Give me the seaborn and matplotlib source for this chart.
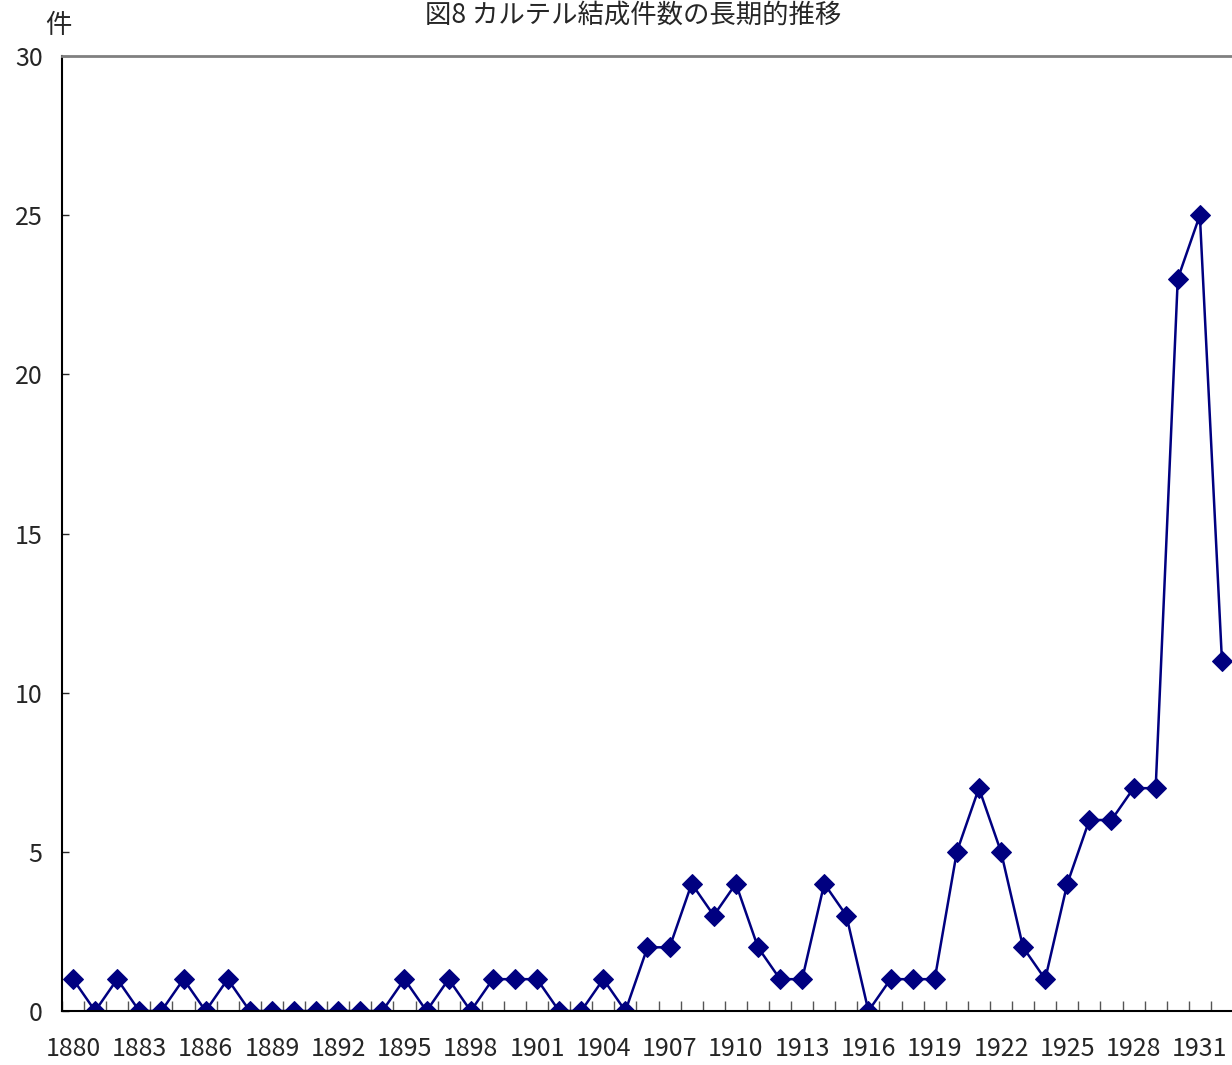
import matplotlib
matplotlib.use('Agg')
import matplotlib.pyplot as plt
from matplotlib.ticker import FixedLocator, MultipleLocator
import seaborn as sns
import numpy as np
import pandas as pd

years = list(range(1880, 1933))
counts = [1, 0, 1, 0, 0, 1, 0, 1, 0, 0,
          0, 0, 0, 0, 0, 1, 0, 1, 0, 1,
          1, 1, 0, 0, 1, 0, 2, 2, 4, 3,
          4, 2, 1, 1, 4, 3, 0, 1, 1, 1,
          5, 7, 5, 2, 1, 4, 6, 6, 7, 7,
          23, 25, 11]
label_years = years[::3]
title = '図8 カルテル結成件数の長期的推移'

sns.set_style('white')
plt.rcParams['font.family'] = ['Noto Sans CJK JP', 'DejaVu Sans']

df = pd.DataFrame({'year': years, 'count': counts})

fig = plt.figure(figsize=(12.32, 10.65), dpi=100)
ax = fig.add_axes([62 / 1232, 1 - 1011 / 1065, 1171 / 1232, (1011 - 56) / 1065])
sns.lineplot(data=df, x='year', y='count', ax=ax, color='#000080',
             marker='D', markersize=10, markeredgecolor='#000080',
             linewidth=1.8)

ax.set_xlim(1879.5, 1932.5)
ax.set_ylim(0, 30)
ax.yaxis.set_major_locator(MultipleLocator(5))
ax.set_xticks(label_years)
ax.set_xticklabels([str(y) for y in label_years])
ax.xaxis.set_minor_locator(FixedLocator(np.arange(1879.5, 1933, 1)))
ax.tick_params(axis='x', which='major', length=0, labelsize=18, pad=18)
ax.tick_params(axis='x', which='minor', direction='in', length=7,
               width=1, color='#555555', bottom=True)
ax.tick_params(axis='y', which='major', direction='in', length=5,
               width=1, labelsize=18, pad=14, left=True)
ax.set_xlabel('')
ax.set_ylabel('')

for s in ['left', 'bottom']:
    ax.spines[s].set_color('black')
    ax.spines[s].set_linewidth(1.5)
ax.spines['top'].set_color('#808080')
ax.spines['top'].set_linewidth(2)
ax.spines['right'].set_visible(False)

fig.text(58 / 1232, 1 - 33 / 1065, '件', fontsize=19, ha='center', va='baseline')
fig.text(633 / 1232, 1 - 23 / 1065, title, fontsize=19, ha='center', va='baseline')

fig.savefig('out.png', dpi=100)
